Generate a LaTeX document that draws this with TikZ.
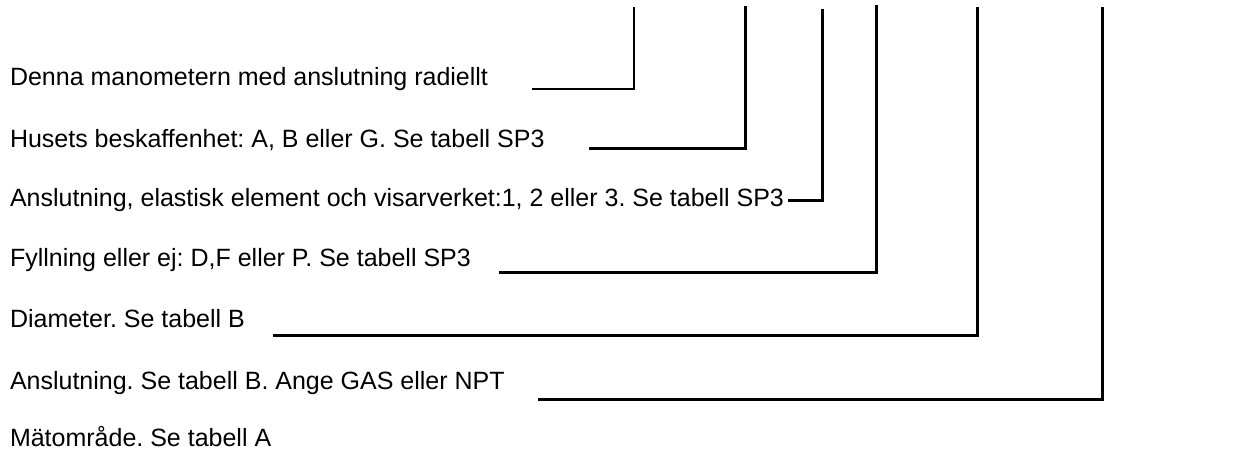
\documentclass[tikz,border=0pt]{standalone}
\usepackage{fontspec}
\setmainfont{Liberation Sans}
\frenchspacing
\begin{document}
\begin{tikzpicture}[x=1pt,y=-1pt,
  lbl/.style={anchor=base west,inner sep=0pt,outer sep=0pt,font=\fontsize{25}{30}\selectfont\frenchspacing},
  leader/.style={line width=3pt,line cap=rect,line join=miter}]
\useasboundingbox[fill=white] (0,0) rectangle (1237,454);
\node[lbl] (t1) at (10,86) {Denna manometern med anslutning radiellt};
\node[lbl] (t2) at (10,148) {Husets beskaffenhet: A, B eller G. Se tabell SP3};
\node[lbl] (t3) at (10,207) {Anslutning, elastisk element och visarverket:1, 2 eller 3. Se tabell SP3};
\node[lbl] (t4) at (10,267) {Fyllning eller ej: D,F eller P. Se tabell SP3};
\node[lbl] (t5) at (10,327) {Diameter. Se tabell B};
\node[lbl] (t6) at (10,389) {Anslutning. Se tabell B. Ange GAS eller NPT};
\node[lbl] (t7) at (10,446) {Mätområde. Se tabell A};
% leader start points, corners and tops
\coordinate (s1) at (533,89);  \coordinate (c1) at (634,89);  \coordinate (e1) at (634,8);
\coordinate (s2) at (590,149); \coordinate (c2) at (745,149); \coordinate (e2) at (745,8);
\coordinate (s3) at (789,201); \coordinate (c3) at (822,201); \coordinate (e3) at (822,11);
\coordinate (s4) at (500,273); \coordinate (c4) at (876,273); \coordinate (e4) at (876,7);
\coordinate (s5) at (274,336); \coordinate (c5) at (977,336); \coordinate (e5) at (977,9);
\coordinate (s6) at (539,399); \coordinate (c6) at (1102,399); \coordinate (e6) at (1102,9);
\draw[leader,line width=2.4pt] (s1) -- (c1) -- (e1);
\draw[leader] (s2) -- (c2) -- (e2);
\draw[leader] (s3) -- (c3) -- (e3);
\draw[leader] (s4) -- (c4) -- (e4);
\draw[leader] (s5) -- (c5) -- (e5);
\draw[leader] (s6) -- (c6) -- (e6);
\end{tikzpicture}
\end{document}
